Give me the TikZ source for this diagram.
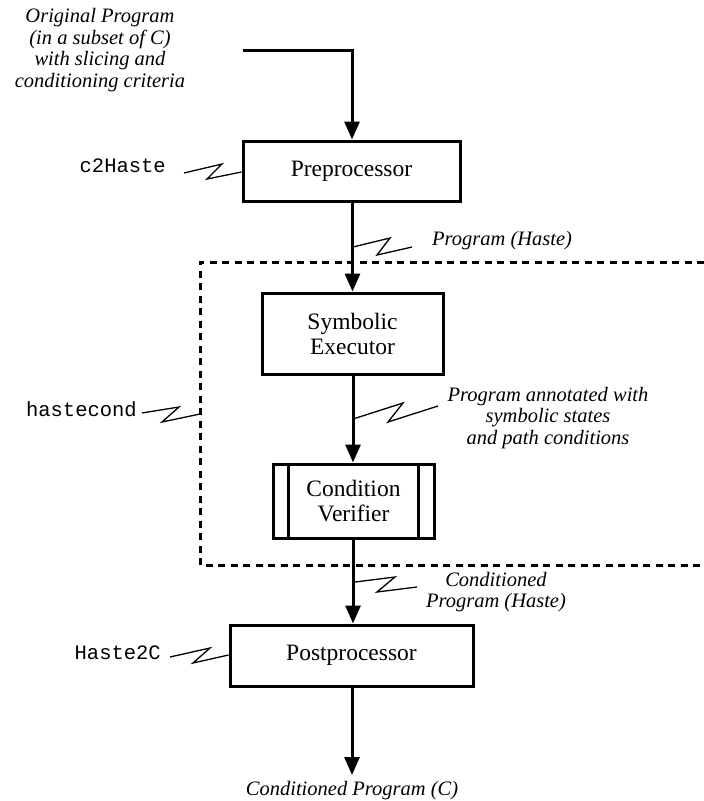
\documentclass[tikz,border=0pt]{standalone}
\usepackage{fontspec}
\setmainfont{Liberation Serif}
\setmonofont{Liberation Mono}
\usetikzlibrary{arrows.meta}
\begin{document}
\begin{tikzpicture}[x=1pt,y=-1pt,
  stagebox/.style={draw,line width=3pt,align=center,inner sep=0pt,
    font=\fontsize{23.5}{25}\selectfont},
  flow/.style={line width=3pt,-{Triangle[length=18pt,width=15pt]}},
  bolt/.style={line width=1.3pt},
  note/.style={align=center,inner sep=0pt,font=\fontsize{20.5}{21.5}\selectfont\itshape},
  tool/.style={inner sep=0pt,font=\fontsize{20.5}{21.5}\selectfont\ttfamily},
  region/.style={line width=3pt,dash pattern=on 7pt off 5.5pt}]
\useasboundingbox (0,0) rectangle (704,801);

% processing stages
\node[stagebox,minimum width=217pt,minimum height=60pt] (pre) at (351.5,171) {Preprocessor};
\node[stagebox,minimum width=181pt,minimum height=81pt] (sym) at (352.5,333.5) {Symbolic\\Executor};
\node[stagebox,minimum width=161pt,minimum height=74pt] (ver) at (353.5,501) {Condition\\Verifier};
\draw[line width=3pt] ([xshift=17pt]ver.north west) -- ([xshift=17pt]ver.south west)
  ([xshift=-17pt]ver.north east) -- ([xshift=-17pt]ver.south east);
\node[stagebox,minimum width=243pt,minimum height=61pt] (post) at (351.5,655.5) {Postprocessor};

% the hastecond region
\draw[region] (704,262) -- (200,262) -- (200,565) -- (704,565);
\coordinate (regl) at (200,414);

% input and data flow
\coordinate (inL) at (243,50);
\coordinate (inC) at (352,50);
\node[note] (orig) at (100,50) {Original Program\\(in a subset of C)\\with slicing and\\conditioning criteria};
\draw[flow] (inL) -- (inC) -- (pre.north -| inC);
\draw[flow] (pre.south -| sym.north) -- (sym.north);
\draw[flow] (sym.south -| 353,0) -- (ver.north -| 353,0);
\draw[flow] (ver.south -| 353,0) -- (post.north -| 353,0);
\coordinate (out) at (352,775);
\draw[flow] (post.south -| out) -- (out);
\node[note] (res) at (352,791) {Conditioned Program (C)};

% data labels
\node[note,anchor=west] (hasteprog) at (432,241) {Program (Haste)};
\draw[bolt] (353,247) -- (390,238) -- (377,255) -- (412,247);
\node[note] (annot) at (548,418) {Program annotated with\\symbolic states\\and path conditions};
\draw[bolt] (353,419) -- (403,403) -- (388,422) -- (438,406);
\node[note] (condh) at (496,592) {Conditioned\\Program (Haste)};
\draw[bolt] (355,582) -- (395,577) -- (377,592) -- (417,587);

% tool names
\node[tool,anchor=east] (c2h) at (166,166) {c2Haste};
\draw[bolt] (184,173) -- (222,164) -- (207,179) -- (pre.west |- 0,172);
\node[tool,anchor=east] (hc) at (137,409) {hastecond};
\draw[bolt] (142,413) -- (179,407) -- (162,422) -- (regl);
\node[tool,anchor=east] (h2c) at (161,653) {Haste2C};
\draw[bolt] (170,657) -- (210,648) -- (193,663) -- (post.west |- 0,655);
\end{tikzpicture}
\end{document}
